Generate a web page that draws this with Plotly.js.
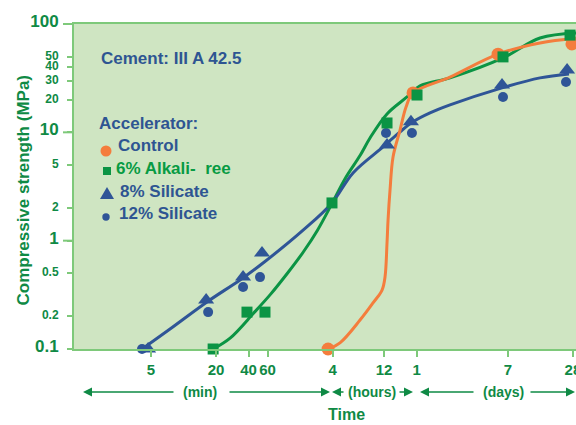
<!DOCTYPE html>
<html><head><meta charset="utf-8">
<script src="https://cdn.plot.ly/plotly-3.0.1.min.js"></script>
<style>html,body{margin:0;padding:0;background:#fff;overflow:hidden}</style>
</head><body><div id="chart" style="width:576px;height:425px"></div>
<script>
// ---- axis ticks ----
const tickMinutes = [5, 20, 40, 60, 240, 720, 1440, 10080, 40320];
const tickLabels = ['5', '20', '40', '60', '4', '12', '1', '7', '28'];
const yTickVals = [0.1, 0.2, 0.5, 1, 2, 5, 10, 20, 30, 40, 50, 100];
const yTickLabels = ['0.1', '0.2', '0.5', '1', '2', '5', '10', '20', '30', '40', '50', '100'];
const yMajorVals = [0.1, 1, 10, 100];

// ---- series (time in minutes, strength in MPa) ----
const controlT = [218, 1334, 8170, 39500];
const controlV = [0.1, 23.1, 52.7, 65.5];
const controlCurveT = [218, 281, 431, 568, 689, 734, 766, 783, 817, 871, 1011, 1149, 1334, 2935, 8170, 19990, 43050];
const controlCurveV = [0.1, 0.114, 0.185, 0.266, 0.350, 0.462, 0.952, 1.55, 2.94, 5.93, 10.5, 17.1, 23.1, 32.4, 52.7, 66.9, 74];

const alkaliT = [18.8, 38.7, 56.8, 237, 766, 1452, 9080, 37900];
const alkaliV = [0.1, 0.219, 0.219, 2.23, 12.2, 22.1, 49.7, 79];
const alkaliCurveT = [18.8, 27.0, 44.7, 64.1, 92, 129, 174, 237, 316, 434, 533, 766, 1173, 1549, 2935, 9080, 19990, 43050];
const alkaliCurveV = [0.1, 0.126, 0.215, 0.321, 0.503, 0.790, 1.25, 2.20, 3.79, 6.18, 8.87, 14.8, 21.2, 26.8, 31.8, 48.6, 74.3, 82.7];

const sil8T = [4.7, 16.2, 35.6, 53.3, 766, 1276, 8890, 35600];
const sil8V = [0.1, 0.283, 0.461, 0.769, 7.65, 12.5, 27.4, 37.7];
const sil12T = [4.13, 16.9, 35.6, 51.1, 750, 1303, 9080, 34800];
const sil12V = [0.1, 0.219, 0.373, 0.461, 9.85, 9.85, 21.2, 29.2];
const silCurveT = [4.13, 7.50, 16.5, 33.4, 54.5, 128, 237, 371, 703, 1011, 1334, 1915, 2935, 8890, 19990, 37100];
const silCurveV = [0.1, 0.153, 0.272, 0.434, 0.622, 1.25, 2.23, 4.22, 7.33, 10.1, 12.5, 15.1, 17.9, 25.7, 31.8, 34.6];

const seriesNames = ['Control', '6% Alkali-\u00a0 ree', '8% Silicate', '12% Silicate'];

// ---- style ----
const FONT = "'Liberation Sans', Arial, sans-serif";
const ORANGE = '#f47d3d', GREEN = '#0b9444', BLUE = '#2f5597';
const TXTBLUE = '#2e5592', AXGREEN = '#0f8a45', BORDER = '#7ec97a', BG = '#cfe5c2';
const W = 576, H = 425, ML = 74, MR = 0, MT = 24, MB = 76;
const PW = W - ML - MR, PH = H - MT - MB;
const px = x => (x - ML) / PW;
const py = y => (H - MB - y) / PH;

function curve(t, v, color) {
  return {x: t, y: v, mode: 'lines', type: 'scatter', line: {shape: 'spline', width: 3, color: color}, hoverinfo: 'skip', showlegend: false};
}
function pts(t, v, color, symbol, size, name) {
  return {x: t, y: v, mode: 'markers', type: 'scatter', name: name, cliponaxis: false,
    marker: {symbol: symbol, size: size, color: color, line: {width: 0}}, showlegend: false};
}

const data = [
  curve(alkaliCurveT, alkaliCurveV, GREEN),
  curve(silCurveT, silCurveV, BLUE),
  curve(controlCurveT, controlCurveV, ORANGE),
  pts(sil12T, sil12V, BLUE, 'circle', 10, seriesNames[3]),
  pts(sil8T, sil8V, BLUE, 'triangle-up', 14, seriesNames[2]),
  pts(controlT, controlV, ORANGE, 'circle', 13, seriesNames[0]),
  pts(alkaliT, alkaliV, GREEN, 'square', 11, seriesNames[1])
];

const yText = yTickVals.map((v, i) => yMajorVals.includes(v)
  ? yTickLabels[i]
  : '<span style="font-size:12px">' + yTickLabels[i] + '</span>');

function ann(text, x, y, color, size, anchor, angle) {
  return {text: text, xref: 'paper', yref: 'paper', x: px(x), y: py(y), xanchor: anchor || 'left', yanchor: 'middle',
    borderpad: 0, borderwidth: 0, textangle: angle || 0,
    showarrow: false, font: {family: FONT, size: size, color: color, weight: 700}};
}
function arrow(head, tail, y) {
  return {text: '', xref: 'paper', yref: 'paper', x: px(head), y: py(y), ax: tail - head, ay: 0,
    showarrow: true, arrowhead: 2, arrowsize: 1.2, arrowwidth: 1.5, arrowcolor: AXGREEN, standoff: 0, startstandoff: 0};
}

const annotations = [
  ann('Cement: III A 42.5', 101, 58, TXTBLUE, 17),
  ann('Accelerator:', 99, 123, TXTBLUE, 17),
  ann(seriesNames[0], 118, 145, TXTBLUE, 17),
  ann(seriesNames[1], 116, 168, '#079b43', 17),
  ann(seriesNames[2], 120, 191, TXTBLUE, 17),
  ann(seriesNames[3], 119, 213, TXTBLUE, 17),
  ann('Compressive strength (MPa)', 22.5, 190, AXGREEN, 17, 'center', -90),
  ann('(min)', 200, 392, AXGREEN, 14, 'center'),
  ann('(hours)', 371.5, 392, AXGREEN, 14, 'center'),
  ann('(days)', 503, 392, AXGREEN, 14, 'center'),
  ann('Time', 346, 414, AXGREEN, 16, 'center'),
  arrow(83, 175, 392), arrow(330, 228, 392),
  arrow(332, 345, 392), arrow(413, 398, 392),
  arrow(420, 475, 392), arrow(575, 529, 392)
];

function glyphCircle(cx, cy, r, color) {
  return {type: 'circle', xref: 'paper', yref: 'paper', xsizemode: 'pixel', ysizemode: 'pixel',
    xanchor: px(cx), yanchor: py(cy), x0: -r, x1: r, y0: -r, y1: r, fillcolor: color, line: {width: 0}};
}
function glyphSquare(cx, cy, r, color) {
  return {type: 'rect', xref: 'paper', yref: 'paper', xsizemode: 'pixel', ysizemode: 'pixel',
    xanchor: px(cx), yanchor: py(cy), x0: -r, x1: r, y0: -r, y1: r, fillcolor: color, line: {width: 0}};
}
function glyphTri(cx, cy, color) {
  return {type: 'path', xref: 'paper', yref: 'paper', xsizemode: 'pixel', ysizemode: 'pixel',
    xanchor: px(cx), yanchor: py(cy), path: 'M -7 -6 L 7 -6 L 0 6 Z', fillcolor: color, line: {width: 0}};
}
function majorTick(v) {
  return {type: 'line', xref: 'paper', yref: 'paper', x0: px(63), x1: 0, y0: (Math.log10(v) + 1) / 3, y1: (Math.log10(v) + 1) / 3,
    line: {color: BORDER, width: 2}};
}

const shapes = [
  majorTick(1), majorTick(10), majorTick(100),
  glyphCircle(106, 151, 5.5, ORANGE),
  glyphSquare(107, 171, 4, GREEN),
  glyphTri(107, 193, BLUE),
  glyphCircle(106, 217, 3.7, BLUE)
];

const layout = {
  width: W, height: H,
  margin: {l: ML, r: MR, t: MT, b: MB, pad: 0},
  paper_bgcolor: '#ffffff', plot_bgcolor: BG,
  showlegend: false,
  xaxis: {type: 'log', range: [-0.014, 4.634], tickmode: 'array', tickvals: tickMinutes, ticktext: tickLabels,
    ticks: 'outside', ticklen: 6, tickwidth: 2, tickcolor: BORDER, showline: true, linecolor: BORDER, linewidth: 2,
    mirror: true, showgrid: false, zeroline: false, fixedrange: true, tickangle: 0, ticklabelstandoff: 0,
    ticklabeloverflow: 'allow',
    tickfont: {family: FONT, size: 15, color: AXGREEN, weight: 700}},
  yaxis: {type: 'log', range: [-1, 2], tickmode: 'array', tickvals: yTickVals, ticktext: yText,
    ticks: 'outside', ticklen: 5, tickwidth: 2, tickcolor: BORDER, showline: true, linecolor: BORDER, linewidth: 2,
    showgrid: false, zeroline: false, fixedrange: true, ticklabelstandoff: 5, ticklabelshift: -3,
    tickfont: {family: FONT, size: 17, color: AXGREEN, weight: 700}},
  annotations: annotations,
  shapes: shapes
};

Plotly.newPlot('chart', data, layout, {displayModeBar: false, staticPlot: true});
</script></body></html>
